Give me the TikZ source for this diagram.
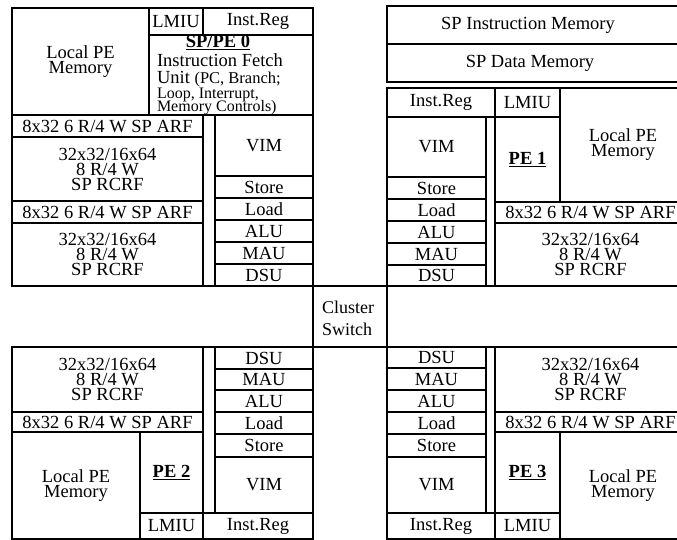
\documentclass[tikz,border=0pt]{standalone}
\usepackage{fontspec}
\setmainfont{Liberation Serif}
\newcommand\lbfont{\fontsize{18.5}{15}\selectfont}
\newcommand\smfont{\fontsize{16}{15}\selectfont}
\tikzset{
  box/.style={draw, line width=1.6pt, inner sep=0pt, outer sep=0pt, align=center, font=\lbfont},
  lbl/.style={inner sep=0pt, outer sep=0pt, font=\lbfont},
  rule/.style={line width=1.6pt, line cap=rect},
}
\newcommand\bx[6]{\node[box, minimum width=#4pt-#2pt, minimum height=#5pt-#3pt, anchor=north west] (#1) at (#2,#3) {#6};}
\newcommand\pelab[1]{\underline{\textbf{#1}}}
\begin{document}
\begin{tikzpicture}[x=1pt,y=-1pt]
\useasboundingbox (0,0) rectangle (677,540);
\clip (0,0) rectangle (677,540);
% ---------- PE 0 (top left) ----------
\bx{lpm0}{12}{8}{149}{115}{Local PE\\Memory}
\bx{lmiu0}{149}{8}{203}{35}{LMIU}
\bx{ir0}{203}{8}{313}{35}{Inst.Reg}
\bx{ifu0}{149}{35}{313}{115}{}
\bx{arf0a}{12}{115}{203}{137}{8x32 6 R/4 W SP ARF}
\bx{rcrf0a}{12}{137}{203}{201}{32x32/16x64\\8 R/4 W\\SP RCRF}
\bx{arf0b}{12}{201}{203}{223}{8x32 6 R/4 W SP ARF}
\bx{rcrf0b}{12}{223}{203}{286}{32x32/16x64\\8 R/4 W\\SP RCRF}
\bx{vim0}{215}{115}{313}{176}{VIM}
\bx{st0}{215}{176}{313}{198}{Store}
\bx{ld0}{215}{198}{313}{220}{Load}
\bx{alu0}{215}{220}{313}{242}{ALU}
\bx{mau0}{215}{242}{313}{264}{MAU}
\bx{dsu0}{215}{264}{313}{286}{DSU}
\node[lbl, anchor=base] (pe0t) at (218,48) {\pelab{SP/PE 0}};
\node[lbl, anchor=base west] (pe0a) at (157,67) {Instruction Fetch};
\node[lbl, anchor=base west] (pe0b) at (157,84) {Unit {\fontsize{16.5}{15}\selectfont(PC, Branch;}};
\node[lbl, anchor=base west, font=\smfont] (pe0c) at (157,99) {Loop, Interrupt,};
\node[lbl, anchor=base west, font=\smfont] (pe0d) at (157,112) {Memory Controls)};
% ---------- SP memories ----------
\bx{spim}{387}{6}{690}{44}{}
\bx{spdm}{387}{44}{690}{82}{}
\node[lbl] (spimt) at (528,25) {SP Instruction Memory};
\node[lbl] (spdmt) at (530,63) {SP Data Memory};
% ---------- PE 1 (top right) ----------
\bx{ir1}{387}{88}{495}{117}{Inst.Reg}
\bx{lmiu1}{495}{88}{560}{117}{LMIU}
\bx{lpm1}{560}{88}{686}{202}{Local PE\\Memory}
\bx{pe1}{495}{117}{560}{202}{\pelab{PE 1}}
\bx{arf1}{495}{202}{686}{223}{8x32 6 R/4 W SP ARF}
\bx{rcrf1}{495}{223}{686}{286}{32x32/16x64\\8 R/4 W\\SP RCRF}
\bx{vim1}{387}{117}{486}{177}{VIM}
\bx{st1}{387}{177}{486}{199}{Store}
\bx{ld1}{387}{199}{486}{221}{Load}
\bx{alu1}{387}{221}{486}{243}{ALU}
\bx{mau1}{387}{243}{486}{265}{MAU}
\bx{dsu1}{387}{265}{486}{286}{DSU}
% ---------- Cluster switch ----------
\bx{cs}{313}{286}{387}{347}{}
\node[lbl, anchor=north west, align=left, font=\fontsize{18}{22}\selectfont] (cst) at (322,301) {Cluster\\Switch};
% ---------- PE 2 (bottom left) ----------
\bx{rcrf2}{12}{347}{203}{412}{32x32/16x64\\8 R/4 W\\SP RCRF}
\bx{arf2}{12}{412}{203}{432}{8x32 6 R/4 W SP ARF}
\bx{lpm2}{12}{432}{140}{539}{Local PE\\Memory}
\bx{pe2}{140}{432}{203}{513}{\pelab{PE 2}}
\bx{lmiu2}{140}{513}{203}{539}{LMIU}
\bx{ir2}{203}{513}{313}{539}{Inst.Reg}
\bx{dsu2}{215}{347}{313}{369}{DSU}
\bx{mau2}{215}{369}{313}{390}{MAU}
\bx{alu2}{215}{390}{313}{412}{ALU}
\bx{ld2}{215}{412}{313}{434}{Load}
\bx{st2}{215}{434}{313}{457}{Store}
\bx{vim2}{215}{457}{313}{513}{VIM}
% ---------- PE 3 (bottom right) ----------
\bx{dsu3}{387}{347}{486}{368}{DSU}
\bx{mau3}{387}{368}{486}{390}{MAU}
\bx{alu3}{387}{390}{486}{412}{ALU}
\bx{ld3}{387}{412}{486}{434}{Load}
\bx{st3}{387}{434}{486}{457}{Store}
\bx{vim3}{387}{457}{486}{513}{VIM}
\bx{ir3}{387}{513}{495}{539}{Inst.Reg}
\bx{lmiu3}{495}{513}{560}{539}{LMIU}
\bx{pe3}{495}{432}{560}{513}{\pelab{PE 3}}
\bx{lpm3}{560}{432}{686}{539}{Local PE\\Memory}
\bx{rcrf3}{495}{347}{686}{412}{32x32/16x64\\8 R/4 W\\SP RCRF}
\bx{arf3}{495}{412}{686}{432}{8x32 6 R/4 W SP ARF}
% ---------- horizontal rules across the gaps ----------
\draw[rule] (rcrf0b.south west) -- (dsu0.south east);
\draw[rule] (dsu1.south west) -- (rcrf1.south east);
\draw[rule] (rcrf2.north west) -- (dsu2.north east);
\draw[rule] (dsu3.north west) -- (rcrf3.north east);
\end{tikzpicture}
\end{document}
